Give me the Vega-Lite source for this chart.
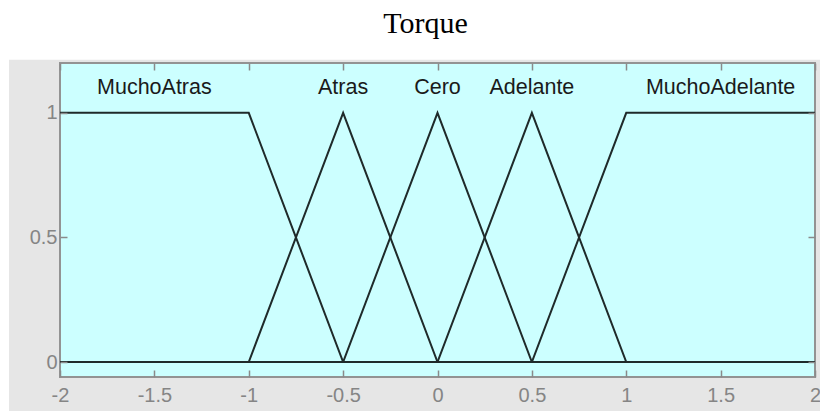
{
  "$schema": "https://vega.github.io/schema/vega-lite/v6.json",
  "width": 755,
  "height": 314,
  "autosize": "none",
  "padding": {"left": 60, "top": 63, "right": 5, "bottom": 34},
  "background": "white",
  "title": {"text": "Torque", "font": "Liberation Serif", "fontSize": 30, "fontWeight": "normal", "color": "black", "anchor": "middle", "dx": -12, "baseline": "alphabetic", "offset": -3},
  "config": {"view": {"stroke": null}},
  "datasets": {
    "mfs": [
      {"mf": "MuchoAtras", "x": -2, "y": 1},
      {"mf": "MuchoAtras", "x": -1, "y": 1},
      {"mf": "MuchoAtras", "x": -0.5, "y": 0},
      {"mf": "MuchoAtras", "x": 2, "y": 0},
      {"mf": "Atras", "x": -2, "y": 0},
      {"mf": "Atras", "x": -1, "y": 0},
      {"mf": "Atras", "x": -0.5, "y": 1},
      {"mf": "Atras", "x": 0, "y": 0},
      {"mf": "Atras", "x": 2, "y": 0},
      {"mf": "Cero", "x": -2, "y": 0},
      {"mf": "Cero", "x": -0.5, "y": 0},
      {"mf": "Cero", "x": 0, "y": 1},
      {"mf": "Cero", "x": 0.5, "y": 0},
      {"mf": "Cero", "x": 2, "y": 0},
      {"mf": "Adelante", "x": -2, "y": 0},
      {"mf": "Adelante", "x": 0, "y": 0},
      {"mf": "Adelante", "x": 0.5, "y": 1},
      {"mf": "Adelante", "x": 1, "y": 0},
      {"mf": "Adelante", "x": 2, "y": 0},
      {"mf": "MuchoAdelante", "x": -2, "y": 0},
      {"mf": "MuchoAdelante", "x": 0.5, "y": 0},
      {"mf": "MuchoAdelante", "x": 1, "y": 1},
      {"mf": "MuchoAdelante", "x": 2, "y": 1}
    ],
    "labels": [
      {"label": "MuchoAtras", "x": -1.5, "y": 1.075},
      {"label": "Atras", "x": -0.5, "y": 1.075},
      {"label": "Cero", "x": 0, "y": 1.075},
      {"label": "Adelante", "x": 0.5, "y": 1.075},
      {"label": "MuchoAdelante", "x": 1.5, "y": 1.075}
    ]
  },
  "resolve": {"axis": {"x": "independent", "y": "independent"}},
  "layer": [
    {
      "data": {"values": [{}]},
      "mark": {"type": "rect", "fill": "#e6e6e6", "clip": false},
      "encoding": {
        "x": {"datum": -2.27, "type": "quantitative", "scale": {"domain": [-2, 2], "nice": false, "zero": false}, "axis": null},
        "x2": {"datum": 2.1},
        "y": {"datum": -0.25, "type": "quantitative", "scale": {"domain": [-0.06, 1.2], "nice": false, "zero": false}, "axis": null},
        "y2": {"datum": 1.213}
      }
    },
    {
      "data": {"values": [{}]},
      "mark": {"type": "rect", "fill": "#ccffff", "stroke": "#939393", "strokeWidth": 2},
      "encoding": {
        "x": {"datum": -2, "type": "quantitative", "axis": null},
        "x2": {"datum": 2},
        "y": {"datum": -0.06, "type": "quantitative", "axis": null},
        "y2": {"datum": 1.2}
      }
    },
    {
      "data": {"name": "mfs"},
      "mark": {"type": "line", "color": "#1f2a2a", "strokeWidth": 2},
      "encoding": {
        "x": {"field": "x", "type": "quantitative", "axis": {"orient": "bottom", "values": [-2, -1.5, -1, -0.5, 0, 0.5, 1, 1.5, 2], "labelExpr": "toString(datum.value)", "domain": false, "grid": false, "tickSize": -7, "tickColor": "#8a8a8a", "tickWidth": 1.5, "labelColor": "#858585", "labelFont": "Liberation Sans", "labelFontSize": 20, "labelPadding": 15, "labelFlush": false, "title": null, "zindex": 1}},
        "y": {"field": "y", "type": "quantitative", "axis": {"orient": "left", "values": [0, 0.5, 1], "labelExpr": "toString(datum.value)", "domain": false, "grid": false, "tickSize": -7, "tickColor": "#8a8a8a", "tickWidth": 1.5, "labelColor": "#858585", "labelFont": "Liberation Sans", "labelFontSize": 20, "labelPadding": 10, "title": null, "zindex": 1}},
        "detail": {"field": "mf"}
      }
    },
    {
      "data": {"name": "labels"},
      "mark": {"type": "text", "font": "Liberation Sans", "fontSize": 21.5, "color": "#1a1a1a", "baseline": "alphabetic", "align": "center"},
      "encoding": {
        "x": {"field": "x", "type": "quantitative", "axis": {"orient": "top", "values": [-2, -1.5, -1, -0.5, 0, 0.5, 1, 1.5, 2], "labels": false, "domain": false, "grid": false, "tickSize": -7, "tickColor": "#8a8a8a", "tickWidth": 1.5, "title": null, "zindex": 1}},
        "y": {"field": "y", "type": "quantitative", "axis": {"orient": "right", "values": [0, 0.5, 1], "labels": false, "domain": false, "grid": false, "tickSize": -7, "tickColor": "#8a8a8a", "tickWidth": 1.5, "title": null, "zindex": 1}},
        "text": {"field": "label"}
      }
    }
  ]
}
